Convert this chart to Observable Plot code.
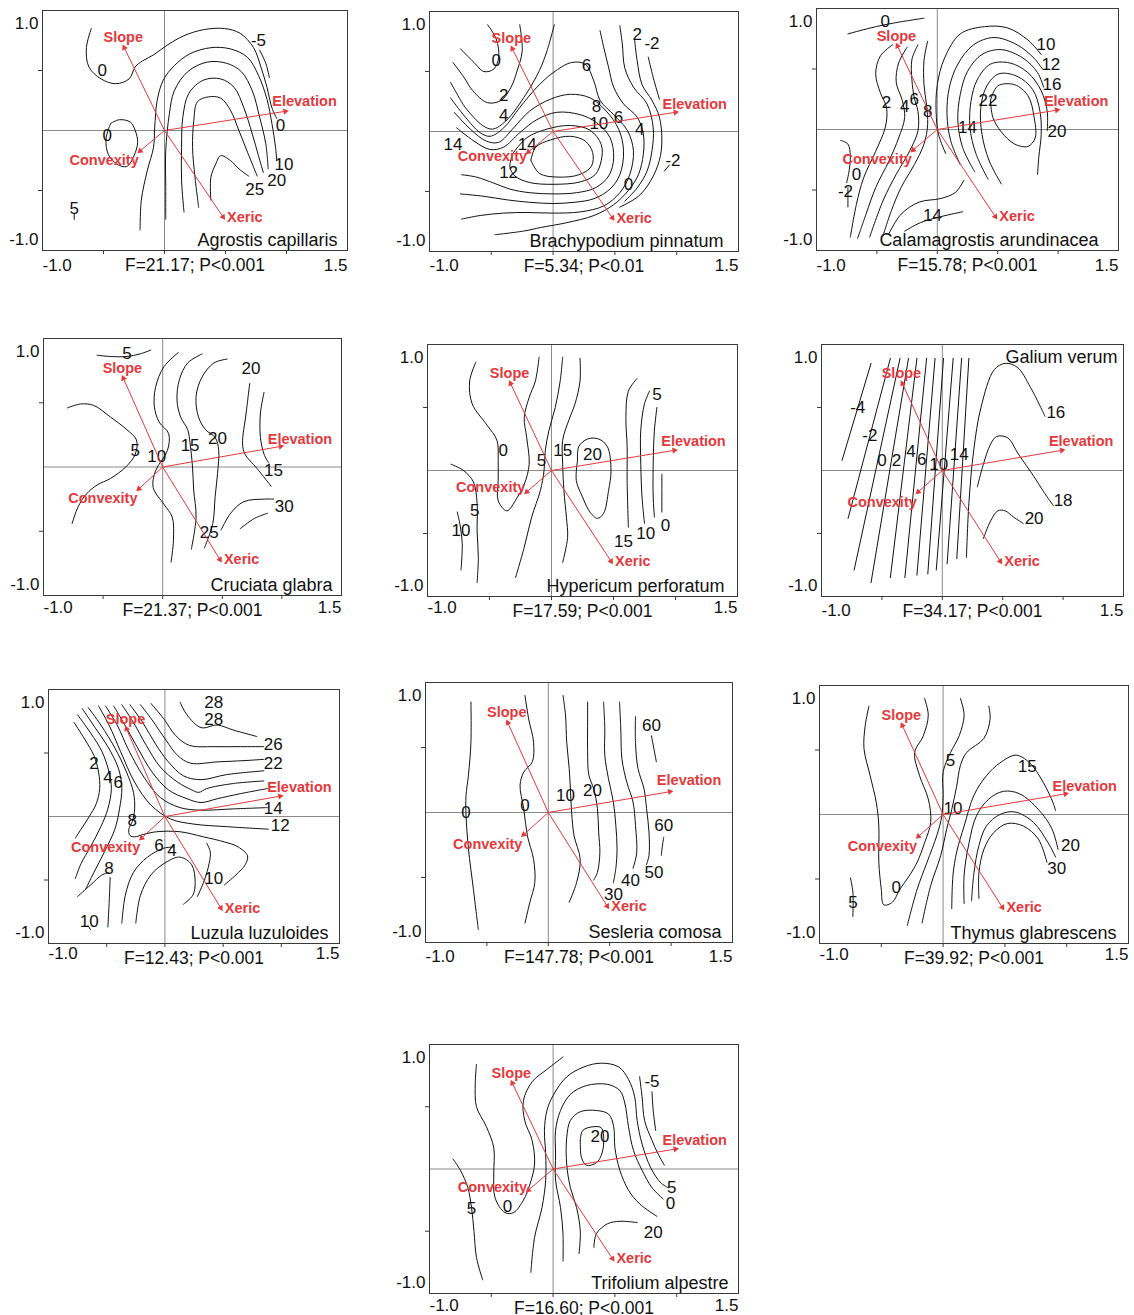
<!DOCTYPE html>
<html><head><meta charset="utf-8">
<script src="https://cdn.jsdelivr.net/npm/d3@7"></script>
<script src="https://cdn.jsdelivr.net/npm/@observablehq/plot@0.6"></script>
<style>
html,body{margin:0;padding:0;background:#fff}
body{width:1134px;height:1315px;overflow:hidden;position:relative}
.panel{position:absolute}
</style></head><body>
<div id="chart"></div>
<script>
// ---------- data ----------
const xTickLabels = [-1.0, 1.5];
const yTickLabels = [1.0, -1.0];
const minorXTicks = [-0.5, 0, 0.5, 1.0];
const minorYTicks = [-0.5, 0.5];

const arrows = [
  {name: "Slope", x: -0.33, y: 0.69},
  {name: "Elevation", x: 0.99, y: 0.16},
  {name: "Convexity", x: -0.20, y: -0.17},
  {name: "Xeric", x: 0.48, y: -0.72}
];

const species = ["Agrostis capillaris", "Brachypodium pinnatum", "Calamagrostis arundinacea",
  "Cruciata glabra", "Hypericum perforatum", "Galium verum",
  "Luzula luzuloides", "Sesleria comosa", "Thymus glabrescens", "Trifolium alpestre"];
const fStats = ["F=21.17; P<0.001", "F=5.34; P<0.01", "F=15.78; P<0.001",
  "F=21.37; P<0.001", "F=17.59; P<0.001", "F=34.17; P<0.001",
  "F=12.43; P<0.001", "F=147.78; P<0.001", "F=39.92; P<0.001", "F=16.60; P<0.001"];

const agrostisLines = [
 [[-0.60,0.85],[-0.64,0.69],[-0.62,0.53],[-0.52,0.43],[-0.40,0.39],[-0.29,0.43],[-0.24,0.53],[-0.18,0.58],[-0.09,0.63],[0.02,0.71],[0.16,0.79],[0.32,0.84],[0.49,0.85],[0.62,0.81],[0.73,0.69],[0.79,0.53],[0.84,0.36],[0.88,0.19],[0.92,0.10]],
 [[-0.20,-0.83],[-0.19,-0.58],[-0.14,-0.33],[-0.09,-0.14],[-0.08,0.03],[-0.06,0.25],[-0.01,0.42],[0.08,0.54],[0.21,0.64],[0.38,0.69],[0.54,0.68],[0.68,0.61],[0.77,0.46],[0.84,0.26],[0.88,0.06],[0.91,-0.14],[0.92,-0.25]],
 [[0.01,-0.74],[0.01,-0.47],[0.01,-0.17],[0.04,0.14],[0.08,0.33],[0.19,0.49],[0.35,0.57],[0.51,0.56],[0.63,0.49],[0.72,0.33],[0.78,0.11],[0.83,-0.11],[0.85,-0.32]],
 [[0.16,-0.68],[0.14,-0.42],[0.14,-0.14],[0.15,0.11],[0.20,0.31],[0.32,0.42],[0.46,0.43],[0.57,0.36],[0.65,0.19],[0.72,-0.03],[0.77,-0.21],[0.81,-0.35]],
 [[0.28,-0.64],[0.25,-0.39],[0.23,-0.14],[0.24,0.08],[0.27,0.24],[0.36,0.28],[0.46,0.27],[0.54,0.17],[0.61,0.00],[0.68,-0.18],[0.76,-0.38]],
 [[0.38,-0.58],[0.38,-0.39],[0.42,-0.28],[0.46,-0.21],[0.54,-0.25],[0.61,-0.32],[0.69,-0.38]],
 [[-0.44,0.06],[-0.37,0.09],[-0.28,0.07],[-0.24,0.00],[-0.22,-0.10],[-0.25,-0.21],[-0.31,-0.30],[-0.39,-0.28],[-0.46,-0.20],[-0.48,-0.08],[-0.46,0.01],[-0.44,0.06]],
 [[0.78,0.67],[0.83,0.56],[0.86,0.44]],
 [[-0.74,-0.69],[-0.74,-0.74]]
];
const agrostisLabels = [[0.77,0.75,"-5"],[-0.51,0.50,"0"],[0.95,0.04,"0"],[-0.47,-0.04,"0"],[0.98,-0.28,"10"],[0.92,-0.42,"20"],[0.74,-0.49,"25"],[-0.74,-0.65,"5"]];

const brachyLines = [
 [[-0.75,0.69],[-0.64,0.575],[-0.56,0.50],[-0.48,0.52],[-0.44,0.62],[-0.46,0.77],[-0.53,0.89]],
 [[-0.81,0.575],[-0.72,0.45],[-0.65,0.34],[-0.53,0.24],[-0.42,0.26],[-0.34,0.37],[-0.29,0.51],[-0.25,0.67],[-0.27,0.89]],
 [[-0.83,0.41],[-0.77,0.30],[-0.71,0.20],[-0.57,0.05],[-0.49,0.02],[-0.38,0.09],[-0.22,0.31],[-0.11,0.51],[-0.05,0.67],[0.01,0.89]],
 [[-0.18,-0.24],[-0.14,-0.13],[-0.02,-0.07],[0.14,-0.04],[0.26,-0.08],[0.32,-0.175],[0.31,-0.29],[0.21,-0.36],[0.04,-0.38],[-0.11,-0.35],[-0.18,-0.24]],
 [[-0.32,-0.175],[-0.21,-0.05],[-0.05,0.02],[0.14,0.05],[0.30,0.01],[0.39,-0.11],[0.39,-0.24],[0.34,-0.36],[0.22,-0.42],[0.00,-0.44],[-0.19,-0.425],[-0.31,-0.37],[-0.35,-0.29],[-0.32,-0.175]],
 [[-0.78,0.03],[-0.64,-0.08],[-0.51,-0.15],[-0.40,-0.13],[-0.27,-0.01],[-0.13,0.10],[0.03,0.16],[0.22,0.14],[0.35,0.075],[0.46,-0.05],[0.49,-0.22],[0.45,-0.37],[0.34,-0.47],[0.19,-0.51],[0.00,-0.52],[-0.19,-0.51],[-0.35,-0.48],[-0.48,-0.43],[-0.62,-0.38],[-0.74,-0.36]],
 [[-0.80,0.16],[-0.67,0.02],[-0.54,-0.08],[-0.44,-0.09],[-0.32,0.03],[-0.19,0.17],[-0.02,0.27],[0.14,0.31],[0.30,0.28],[0.43,0.17],[0.53,0.02],[0.57,-0.16],[0.54,-0.36],[0.46,-0.48],[0.33,-0.56],[0.17,-0.59],[0.00,-0.60],[-0.19,-0.59],[-0.37,-0.57],[-0.56,-0.54],[-0.75,-0.52]],
 [[-0.83,0.28],[-0.71,0.12],[-0.59,-0.01],[-0.51,-0.04],[-0.40,0.03],[-0.27,0.20],[-0.13,0.37],[0.00,0.49],[0.15,0.575],[0.26,0.56],[0.33,0.42],[0.38,0.26],[0.49,0.14],[0.60,0.01],[0.65,-0.16],[0.62,-0.36],[0.54,-0.51],[0.41,-0.62],[0.22,-0.67],[0.00,-0.68],[-0.21,-0.675],[-0.40,-0.68],[-0.59,-0.70],[-0.74,-0.73]],
 [[0.38,0.84],[0.41,0.70],[0.45,0.53],[0.49,0.37],[0.57,0.23],[0.68,0.12],[0.73,-0.02],[0.73,-0.19],[0.69,-0.36],[0.61,-0.49],[0.49,-0.61],[0.33,-0.70],[0.11,-0.76],[-0.10,-0.80],[-0.24,-0.83],[-0.47,-0.86]],
 [[0.54,0.88],[0.56,0.73],[0.58,0.53],[0.65,0.37],[0.76,0.23],[0.81,0.03],[0.80,-0.16],[0.76,-0.33],[0.68,-0.47],[0.58,-0.58]],
 [[0.66,0.76],[0.68,0.59],[0.72,0.39],[0.80,0.26],[0.86,0.12],[0.88,-0.08],[0.86,-0.24],[0.79,-0.41],[0.69,-0.54],[0.54,-0.63]],
 [[0.77,0.62],[0.81,0.45],[0.86,0.27]],
 [[0.90,-0.33],[0.94,-0.28]]
];
const brachyLabels = [[-0.46,0.59,"0"],[-0.40,0.30,"2"],[-0.40,0.13,"4"],[-0.81,-0.11,"14"],[-0.21,-0.11,"14"],[-0.36,-0.34,"12"],[0.27,0.55,"6"],[0.35,0.21,"8"],[0.37,0.065,"10"],[0.53,0.12,"6"],[0.70,0.02,"4"],[0.68,0.81,"2"],[0.80,0.73,"-2"],[0.97,-0.24,"-2"],[0.61,-0.44,"0"]];

const calamLines = [
 [[-0.74,0.79],[-0.55,0.84],[-0.36,0.88],[-0.11,0.92]],
 [[-0.37,0.70],[-0.47,0.61],[-0.51,0.46],[-0.47,0.30],[-0.42,0.18],[-0.43,0.02],[-0.51,-0.18],[-0.61,-0.40],[-0.67,-0.62],[-0.72,-0.89]],
 [[-0.25,0.68],[-0.32,0.55],[-0.34,0.39],[-0.29,0.24],[-0.27,0.10],[-0.32,-0.07],[-0.40,-0.26],[-0.51,-0.48],[-0.59,-0.70],[-0.66,-0.90]],
 [[-0.16,0.70],[-0.21,0.58],[-0.21,0.41],[-0.19,0.26],[-0.16,0.15],[-0.16,-0.01],[-0.23,-0.18],[-0.34,-0.37],[-0.45,-0.59],[-0.56,-0.89]],
 [[-0.08,0.73],[-0.11,0.57],[-0.11,0.37],[-0.09,0.21],[-0.08,0.04],[-0.11,-0.12],[-0.19,-0.29],[-0.30,-0.48],[-0.38,-0.67],[-0.45,-0.88]],
 [[0.07,-0.20],[0.01,-0.04],[-0.01,0.15],[0.00,0.37],[0.06,0.59],[0.19,0.79],[0.39,0.85],[0.58,0.84],[0.75,0.74],[0.86,0.62]],
 [[0.19,-0.29],[0.11,-0.09],[0.08,0.13],[0.10,0.35],[0.17,0.54],[0.30,0.70],[0.47,0.76],[0.66,0.70],[0.80,0.59],[0.87,0.50]],
 [[0.31,-0.35],[0.21,-0.15],[0.17,0.07],[0.19,0.29],[0.25,0.48],[0.37,0.62],[0.53,0.66],[0.71,0.59],[0.83,0.47],[0.88,0.35]],
 [[0.42,-0.41],[0.32,-0.20],[0.27,0.02],[0.28,0.24],[0.33,0.41],[0.44,0.54],[0.60,0.55],[0.75,0.47],[0.86,0.32],[0.91,0.15],[0.91,-0.01]],
 [[0.53,-0.45],[0.43,-0.26],[0.37,-0.04],[0.36,0.18],[0.41,0.36],[0.51,0.46],[0.66,0.44],[0.79,0.33],[0.85,0.15],[0.86,-0.04],[0.84,-0.23],[0.83,-0.37]],
 [[0.44,0.24],[0.50,0.36],[0.64,0.37],[0.75,0.28],[0.80,0.11],[0.81,-0.07],[0.75,-0.14],[0.64,-0.12],[0.53,-0.02],[0.46,0.10],[0.44,0.24]],
 [[-0.27,-0.84],[-0.14,-0.77],[0.03,-0.72],[0.21,-0.68]],
 [[-0.40,-0.86],[-0.30,-0.70],[-0.15,-0.60],[0.03,-0.57],[0.15,-0.52],[0.22,-0.42]],
 [[-0.80,-0.09],[-0.74,-0.12],[-0.72,-0.22],[-0.73,-0.34],[-0.75,-0.44]],
 [[-0.74,-0.48],[-0.74,-0.56],[-0.74,-0.64]]
];
const calamLabels = [[-0.43,0.89,"0"],[0.90,0.70,"10"],[0.94,0.54,"12"],[0.95,0.37,"16"],[0.42,0.24,"22"],[0.99,-0.02,"20"],[-0.42,0.22,"2"],[-0.27,0.19,"4"],[-0.19,0.25,"6"],[-0.08,0.15,"8"],[0.25,0.02,"14"],[-0.67,-0.37,"0"],[-0.76,-0.51,"-2"],[-0.04,-0.71,"14"]];

const cruciataLines = [
 [[-0.55,0.87],[-0.44,0.86],[-0.30,0.86],[-0.19,0.88],[-0.10,0.91]],
 [[-0.80,0.46],[-0.69,0.49],[-0.58,0.48],[-0.44,0.39],[-0.30,0.29],[-0.22,0.21],[-0.23,0.10],[-0.31,0.00],[-0.44,-0.09],[-0.55,-0.14],[-0.64,-0.21],[-0.71,-0.31],[-0.76,-0.44]],
 [[0.13,0.89],[0.01,0.78],[-0.06,0.62],[-0.07,0.47],[-0.03,0.35],[0.05,0.26],[0.04,0.13],[-0.06,-0.03],[-0.08,-0.16],[0.01,-0.29],[0.08,-0.39],[0.09,-0.57],[0.07,-0.74]],
 [[0.33,0.88],[0.21,0.81],[0.14,0.68],[0.12,0.52],[0.15,0.39],[0.21,0.29],[0.23,0.18],[0.25,0.00],[0.26,-0.18],[0.28,-0.39],[0.24,-0.64]],
 [[0.54,0.84],[0.43,0.81],[0.33,0.70],[0.28,0.55],[0.30,0.39],[0.36,0.29],[0.44,0.23],[0.47,0.13],[0.46,-0.05],[0.44,-0.23],[0.42,-0.44],[0.35,-0.63]],
 [[0.73,0.65],[0.70,0.42],[0.67,0.18],[0.69,0.10],[0.79,-0.01],[0.91,-0.15]],
 [[0.85,0.58],[0.82,0.42],[0.82,0.23],[0.85,0.10],[0.89,0.03]],
 [[0.49,-0.49],[0.57,-0.36],[0.68,-0.27],[0.85,-0.25],[0.93,-0.25]],
 [[0.65,-0.48],[0.77,-0.40],[0.88,-0.36]]
];
const cruciataLabels = [[-0.30,0.88,"5"],[-0.23,0.13,"5"],[-0.05,0.08,"10"],[0.23,0.17,"15"],[0.46,0.22,"20"],[0.74,0.77,"20"],[0.93,-0.03,"15"],[1.02,-0.31,"30"],[0.39,-0.51,"25"]];

const hyperLines = [
 [[-0.61,0.86],[-0.66,0.71],[-0.64,0.53],[-0.52,0.36],[-0.44,0.24],[-0.43,0.08],[-0.43,-0.08],[-0.43,-0.24],[-0.36,-0.32],[-0.28,-0.22],[-0.22,-0.11],[-0.18,0.05],[-0.20,0.26],[-0.22,0.42],[-0.18,0.58],[-0.13,0.71],[-0.10,0.90]],
 [[0.09,0.90],[0.07,0.71],[0.03,0.50],[-0.02,0.32],[-0.05,0.16],[-0.06,0.00],[-0.09,-0.16],[-0.16,-0.37],[-0.22,-0.61],[-0.29,-0.85]],
 [[0.23,0.89],[0.23,0.71],[0.19,0.53],[0.14,0.40],[0.09,0.24],[0.09,0.05],[0.10,-0.16],[0.12,-0.37],[0.13,-0.53],[0.09,-0.73]],
 [[0.21,0.08],[0.22,0.19],[0.29,0.25],[0.38,0.25],[0.45,0.19],[0.48,0.00],[0.46,-0.16],[0.42,-0.34],[0.37,-0.38],[0.31,-0.33],[0.25,-0.21],[0.20,-0.08],[0.21,0.08]],
 [[0.69,0.73],[0.62,0.63],[0.60,0.42],[0.61,0.19],[0.61,-0.08],[0.62,-0.45]],
 [[0.79,0.63],[0.75,0.53],[0.72,0.32],[0.72,0.05],[0.73,-0.21],[0.75,-0.42]],
 [[0.85,0.50],[0.83,0.32],[0.82,0.05],[0.82,-0.21],[0.83,-0.37]],
 [[0.89,-0.03],[0.89,-0.16],[0.89,-0.33]],
 [[-0.76,-0.33],[-0.74,-0.42],[-0.72,-0.58],[-0.73,-0.79]],
 [[-0.81,0.05],[-0.71,0.00],[-0.63,-0.09],[-0.60,-0.26],[-0.60,-0.48],[-0.59,-0.69],[-0.60,-0.89]]
];
const hyperLabels = [[-0.39,0.16,"0"],[-0.08,0.08,"5"],[0.09,0.16,"15"],[0.33,0.13,"20"],[0.85,0.60,"5"],[0.58,-0.56,"15"],[0.76,-0.50,"10"],[0.92,-0.44,"0"],[-0.62,-0.32,"5"],[-0.73,-0.48,"10"]];

const galiumLines = [
 [[-0.83,0.08],[-0.59,0.85]],
 [[-0.78,-0.38],[-0.43,0.89]],
 [[-0.73,-0.79],[-0.35,0.89]],
 [[-0.59,-0.89],[-0.28,0.89]],
 [[-0.43,-0.85],[-0.21,0.89]],
 [[-0.31,-0.85],[-0.13,0.89]],
 [[-0.21,-0.83],[-0.06,0.89]],
 [[-0.12,-0.82],[0.01,0.89]],
 [[-0.05,-0.79],[0.09,0.89]],
 [[0.04,-0.74],[0.16,0.89]],
 [[0.12,-0.70],[0.22,0.89]],
 [[0.20,-0.69],[0.22,-0.26],[0.26,0.16],[0.32,0.50],[0.43,0.80],[0.52,0.85],[0.62,0.82],[0.73,0.66],[0.85,0.43]],
 [[0.29,-0.13],[0.34,0.05],[0.40,0.21],[0.45,0.27],[0.54,0.26],[0.63,0.13],[0.76,-0.05],[0.84,-0.17],[0.92,-0.28]],
 [[0.34,-0.54],[0.40,-0.40],[0.46,-0.32],[0.52,-0.32],[0.59,-0.37],[0.67,-0.42]]
];
const galiumLabels = [[-0.70,0.50,"-4"],[-0.60,0.28,"-2"],[-0.50,0.08,"0"],[-0.38,0.08,"2"],[-0.26,0.15,"4"],[-0.17,0.09,"6"],[-0.03,0.05,"10"],[0.14,0.13,"14"],[0.94,0.46,"16"],[1.00,-0.24,"18"],[0.76,-0.38,"20"]];

const luzulaLines = [
 [[-0.78,0.74],[-0.69,0.61],[-0.61,0.48],[-0.57,0.35],[-0.56,0.22],[-0.59,0.10],[-0.65,0.00],[-0.72,-0.10],[-0.77,-0.17]],
 [[-0.75,0.80],[-0.64,0.66],[-0.54,0.51],[-0.48,0.35],[-0.46,0.22],[-0.49,0.06],[-0.55,-0.08],[-0.64,-0.24],[-0.72,-0.37],[-0.77,-0.49]],
 [[-0.71,0.85],[-0.60,0.70],[-0.49,0.55],[-0.40,0.38],[-0.37,0.23],[-0.39,0.06],[-0.43,-0.10],[-0.52,-0.28],[-0.61,-0.44],[-0.68,-0.57]],
 [[-0.66,0.86],[-0.55,0.72],[-0.43,0.54],[-0.33,0.35],[-0.27,0.19],[-0.26,0.06],[-0.28,-0.04],[-0.31,-0.10],[-0.30,-0.15],[-0.26,-0.16],[-0.18,-0.14],[-0.07,-0.12],[0.13,-0.12],[0.33,-0.16],[0.51,-0.20],[0.63,-0.24],[0.71,-0.31],[0.69,-0.38],[0.61,-0.46],[0.51,-0.54]],
 [[-0.57,0.87],[-0.48,0.72],[-0.38,0.51],[-0.26,0.27],[-0.12,0.09],[0.05,-0.02],[0.25,-0.06],[0.53,-0.08],[0.89,-0.10]],
 [[-0.51,0.87],[-0.41,0.72],[-0.31,0.52],[-0.18,0.31],[-0.04,0.15],[0.13,0.07],[0.31,0.05],[0.59,0.06],[0.88,0.07]],
 [[-0.44,0.87],[-0.35,0.73],[-0.24,0.55],[-0.11,0.35],[0.03,0.21],[0.19,0.14],[0.31,0.11],[0.45,0.14],[0.65,0.18],[0.88,0.22]],
 [[-0.37,0.88],[-0.27,0.74],[-0.16,0.56],[-0.04,0.39],[0.11,0.27],[0.23,0.21],[0.29,0.19],[0.36,0.22],[0.59,0.26],[0.85,0.28]],
 [[-0.30,0.88],[-0.19,0.74],[-0.08,0.57],[0.03,0.43],[0.16,0.32],[0.31,0.29],[0.53,0.33],[0.85,0.36]],
 [[-0.21,0.88],[-0.11,0.76],[0.01,0.60],[0.11,0.48],[0.22,0.42],[0.45,0.43],[0.68,0.44],[0.85,0.45]],
 [[-0.12,0.89],[-0.01,0.77],[0.09,0.64],[0.21,0.56],[0.42,0.55],[0.65,0.55],[0.85,0.55]],
 [[0.13,0.90],[0.19,0.80],[0.31,0.70],[0.45,0.72],[0.59,0.68],[0.79,0.63]],
 [[-0.37,-0.84],[-0.34,-0.62],[-0.27,-0.44],[-0.15,-0.32],[-0.01,-0.25],[0.08,-0.24]],
 [[-0.25,-0.84],[-0.21,-0.62],[-0.12,-0.46],[0.01,-0.36],[0.13,-0.32],[0.23,-0.38],[0.26,-0.52],[0.24,-0.62],[0.16,-0.69]],
 [[0.28,-0.63],[0.34,-0.50],[0.38,-0.37],[0.39,-0.28],[0.36,-0.21]],
 [[-0.75,-0.63],[-0.64,-0.54],[-0.54,-0.46],[-0.48,-0.44]],
 [[-0.47,-0.48],[-0.48,-0.70],[-0.49,-0.87]],
 [[-0.66,-0.86],[-0.64,-0.89]]
];
const luzulaLabels = [[0.42,0.90,"28"],[0.42,0.76,"28"],[0.93,0.57,"26"],[0.93,0.42,"22"],[0.93,0.06,"14"],[0.99,-0.07,"12"],[-0.61,0.42,"2"],[-0.49,0.31,"4"],[-0.40,0.27,"6"],[-0.28,-0.03,"8"],[-0.05,-0.23,"6"],[0.06,-0.27,"4"],[0.42,-0.49,"10"],[-0.48,-0.41,"8"],[-0.65,-0.83,"10"]];

const sesleriaLines = [
 [[-0.63,0.85],[-0.63,0.54],[-0.65,0.29],[-0.67,0.13],[-0.67,-0.02],[-0.65,-0.28],[-0.61,-0.59],[-0.57,-0.90]],
 [[-0.19,0.90],[-0.16,0.72],[-0.12,0.54],[-0.13,0.39],[-0.20,0.31],[-0.23,0.21],[-0.20,0.03],[-0.17,-0.18],[-0.12,-0.36],[-0.11,-0.54],[-0.15,-0.69],[-0.19,-0.85]],
 [[0.12,0.90],[0.14,0.75],[0.15,0.54],[0.17,0.34],[0.18,0.18],[0.19,0.00],[0.21,-0.18],[0.26,-0.36],[0.23,-0.54],[0.17,-0.69]],
 [[0.32,0.85],[0.32,0.67],[0.32,0.47],[0.33,0.29],[0.37,0.18],[0.40,0.03],[0.41,-0.15],[0.42,-0.31],[0.40,-0.46],[0.37,-0.52]],
 [[0.45,0.85],[0.46,0.65],[0.46,0.44],[0.49,0.26],[0.53,0.08],[0.55,-0.10],[0.56,-0.28],[0.55,-0.43],[0.53,-0.54]],
 [[0.58,0.85],[0.59,0.65],[0.60,0.41],[0.64,0.23],[0.69,0.08],[0.71,-0.10],[0.72,-0.31],[0.69,-0.43]],
 [[0.71,0.74],[0.71,0.54],[0.73,0.34],[0.78,0.18],[0.80,0.03],[0.82,-0.15],[0.82,-0.33],[0.80,-0.40]],
 [[0.84,0.59],[0.86,0.49],[0.88,0.39]],
 [[0.94,-0.19],[0.93,-0.25],[0.92,-0.33]]
];
const sesleriaLabels = [[-0.67,0.00,"0"],[-0.19,0.05,"0"],[0.14,0.13,"10"],[0.36,0.17,"20"],[0.84,0.67,"60"],[0.94,-0.10,"60"],[0.86,-0.46,"50"],[0.67,-0.52,"40"],[0.53,-0.63,"30"]];

const thymusLines = [
 [[-0.60,0.84],[-0.63,0.69],[-0.64,0.51],[-0.59,0.30],[-0.54,0.09],[-0.52,-0.09],[-0.52,-0.37],[-0.50,-0.58],[-0.48,-0.70],[-0.41,-0.68],[-0.35,-0.58],[-0.27,-0.47],[-0.21,-0.37],[-0.15,-0.22],[-0.10,-0.06],[-0.12,0.12],[-0.19,0.30],[-0.23,0.48],[-0.16,0.61],[-0.12,0.77],[-0.15,0.90]],
 [[0.14,0.90],[0.17,0.77],[0.13,0.61],[0.06,0.48],[0.00,0.33],[0.00,0.15],[-0.01,-0.01],[-0.05,-0.16],[-0.13,-0.37],[-0.21,-0.58],[-0.29,-0.86]],
 [[0.37,0.84],[0.38,0.74],[0.33,0.59],[0.19,0.48],[0.14,0.38],[0.11,0.22],[0.07,0.04],[0.03,-0.11],[-0.02,-0.32],[-0.10,-0.55],[-0.17,-0.84]],
 [[0.07,-0.73],[0.08,-0.47],[0.11,-0.29],[0.17,-0.09],[0.25,0.15],[0.35,0.30],[0.46,0.40],[0.59,0.46],[0.70,0.40],[0.81,0.25],[0.89,0.09],[0.91,0.03]],
 [[0.17,-0.69],[0.17,-0.47],[0.21,-0.22],[0.27,-0.01],[0.37,0.12],[0.49,0.18],[0.62,0.16],[0.77,0.04],[0.88,-0.11],[0.93,-0.27]],
 [[0.23,-0.67],[0.25,-0.45],[0.29,-0.24],[0.35,-0.09],[0.46,0.00],[0.58,0.02],[0.73,-0.06],[0.85,-0.22],[0.91,-0.33]],
 [[0.29,-0.65],[0.29,-0.45],[0.33,-0.27],[0.41,-0.14],[0.52,-0.07],[0.65,-0.09],[0.77,-0.19],[0.84,-0.37]],
 [[-0.75,-0.49],[-0.73,-0.60],[-0.73,-0.79]]
];
const thymusLabels = [[-0.38,-0.57,"0"],[0.06,0.42,"5"],[0.08,0.05,"10"],[0.68,0.37,"15"],[1.03,-0.24,"20"],[0.92,-0.42,"30"],[-0.73,-0.68,"5"]];

const trifoliumLines = [
 [[-0.81,0.08],[-0.75,-0.01],[-0.69,-0.15],[-0.66,-0.31],[-0.64,-0.50],[-0.62,-0.71],[-0.57,-0.89]],
 [[-0.62,0.84],[-0.63,0.68],[-0.62,0.50],[-0.54,0.34],[-0.48,0.17],[-0.48,-0.04],[-0.47,-0.23],[-0.39,-0.35],[-0.32,-0.35],[-0.24,-0.25],[-0.19,-0.13],[-0.15,0.04],[-0.17,0.23],[-0.23,0.39],[-0.24,0.55],[-0.17,0.70],[-0.05,0.80],[0.08,0.90]],
 [[0.70,0.74],[0.72,0.58],[0.74,0.39],[0.80,0.23],[0.85,0.12],[0.90,0.03]],
 [[0.80,0.62],[0.81,0.47],[0.83,0.31]],
 [[-0.18,-0.83],[-0.15,-0.55],[-0.09,-0.31],[-0.06,-0.09],[-0.06,0.12],[-0.07,0.31],[-0.05,0.47],[0.00,0.59],[0.11,0.74],[0.25,0.82],[0.39,0.85],[0.53,0.82],[0.61,0.72],[0.66,0.58],[0.68,0.39],[0.72,0.20],[0.79,0.01],[0.87,-0.11],[0.93,-0.15]],
 [[0.08,-0.74],[0.08,-0.52],[0.06,-0.31],[0.02,-0.09],[0.02,0.12],[0.02,0.31],[0.06,0.47],[0.14,0.60],[0.27,0.67],[0.44,0.68],[0.54,0.63],[0.58,0.53],[0.61,0.34],[0.65,0.15],[0.72,-0.01],[0.80,-0.15],[0.89,-0.24]],
 [[0.21,-0.68],[0.22,-0.50],[0.19,-0.31],[0.14,-0.15],[0.11,0.04],[0.11,0.25],[0.14,0.39],[0.22,0.46],[0.35,0.47],[0.45,0.44],[0.49,0.34],[0.50,0.17],[0.54,-0.01],[0.61,-0.17],[0.70,-0.28],[0.84,-0.38]],
 [[0.22,0.23],[0.24,0.31],[0.33,0.34],[0.39,0.33],[0.41,0.23],[0.39,0.11],[0.35,0.05],[0.27,0.03],[0.23,0.09],[0.22,0.23]],
 [[0.33,-0.63],[0.35,-0.52],[0.44,-0.44],[0.54,-0.42],[0.68,-0.43]]
];
const trifoliumLabels = [[0.80,0.70,"-5"],[0.38,0.26,"20"],[0.96,-0.15,"5"],[0.95,-0.28,"0"],[0.81,-0.51,"20"],[-0.66,-0.32,"5"],[-0.37,-0.30,"0"]];

// ---------- layout / style ----------
const FONT = "'Liberation Sans', Arial, Helvetica, sans-serif";
const RED = "#e4393c";
const layout = [
  {left:42,  top:10,   w:305, h:240, tickDy:15, convDy:9,  elevDy:-10, nameDx:-10},
  {left:429, top:11,   w:309, h:240, tickDy:14, convDy:4,  elevDy:-8,  nameDx:-15},
  {left:816, top:8,    w:302, h:242, tickDy:15, convDy:9,  elevDy:-9,  nameDx:-20},
  {left:43,  top:338,  w:298, h:257, tickDy:12, convDy:10, elevDy:-7,  nameDx:-9},
  {left:427, top:344,  w:310, h:252, tickDy:11, convDy:-5, elevDy:-9,  nameDx:-13},
  {left:821, top:344,  w:302, h:252, tickDy:14, convDy:10, elevDy:-9,  nameDx:-6, nameTop:true},
  {left:48,  top:689,  w:291, h:254, tickDy:10, convDy:9,  elevDy:-9,  nameDx:-11},
  {left:425, top:682,  w:307, h:260, tickDy:14, convDy:10, elevDy:-11, nameDx:-11},
  {left:819, top:685,  w:309, h:258, tickDy:11, convDy:10, elevDy:-8,  nameDx:-12},
  {left:429, top:1044, w:309, h:249, tickDy:12, convDy:-3, elevDy:-9,  nameDx:-10}
];
const allLines = [agrostisLines, brachyLines, calamLines, cruciataLines, hyperLines, galiumLines, luzulaLines, sesleriaLines, thymusLines, trifoliumLines];
const allLabels = [agrostisLabels, brachyLabels, calamLabels, cruciataLabels, hyperLabels, galiumLabels, luzulaLabels, sesleriaLabels, thymusLabels, trifoliumLabels];

const chart = document.getElementById("chart");
const ML = 40, MR = 6, MT = 12, MB = 30;

layout.forEach((L, i) => {
  const rows = allLines[i].flatMap((ln, j) => ln.map(([x, y]) => ({id: j, x, y})));
  const labs = allLabels[i].map(([x, y, t]) => ({x, y, t}));
  const sx = L.w / 2.5, sy = L.h / 2;
  const headAngle = a => Math.atan2(a.x * sx, a.y * sy) * 180 / Math.PI;
  const arrowText = (name, opts) => Plot.text(arrows.filter(a => a.name === name),
    {x: "x", y: "y", text: "name", fill: RED, fontWeight: "bold", fontSize: 14.5, ...opts});
  const svg = Plot.plot({
    width: L.w + ML + MR, height: L.h + MT + MB,
    marginLeft: ML, marginRight: MR, marginTop: MT, marginBottom: MB,
    x: {domain: [-1, 1.5], axis: null},
    y: {domain: [-1, 1], axis: null},
    style: {fontFamily: FONT, fontSize: "17px", color: "#111", background: "transparent", overflow: "visible"},
    marks: [
      Plot.ruleX([0], {stroke: "#8a8a8a", strokeWidth: 1}),
      Plot.ruleY([0], {stroke: "#8a8a8a", strokeWidth: 1}),
      Plot.line(rows, {x: "x", y: "y", z: "id", curve: "catmull-rom", stroke: "#111", strokeWidth: 1}),
      Plot.text(labs, {x: "x", y: "y", text: "t", fontSize: 17, fill: "#111"}),
      Plot.link(arrows, {x1: () => 0, y1: () => 0, x2: "x", y2: "y", stroke: RED, strokeWidth: 1}),
      Plot.dot(arrows, {x: "x", y: "y", symbol: "triangle", r: 2.3, rotate: headAngle, fill: RED, stroke: "none"}),
      arrowText("Slope", {textAnchor: "middle", dx: -1, dy: -10}),
      arrowText("Elevation", {textAnchor: "start", dx: -13, dy: L.elevDy}),
      arrowText("Convexity", {textAnchor: "middle", dx: -36, dy: L.convDy}),
      arrowText("Xeric", {textAnchor: "start", dx: 4, dy: 0}),
      Plot.frame({stroke: "#3a3a3a", strokeWidth: 1}),
      Plot.axisX({ticks: minorXTicks, tickSize: 4, tickFormat: () => "", label: null, stroke: "#3a3a3a"}),
      Plot.axisY({ticks: minorYTicks, tickSize: 4, tickFormat: () => "", label: null, stroke: "#3a3a3a"}),
      Plot.text(xTickLabels.filter(d => d < 0), {x: d => d, text: d => d.toFixed(1), frameAnchor: "bottom", lineAnchor: "middle", dy: L.tickDy, textAnchor: "start", fontSize: 17}),
      Plot.text(xTickLabels.filter(d => d > 0), {x: d => d, text: d => d.toFixed(1), frameAnchor: "bottom", lineAnchor: "middle", dy: L.tickDy, textAnchor: "end", fontSize: 17}),
      Plot.text(yTickLabels.filter(d => d > 0), {y: d => d, text: d => d.toFixed(1), frameAnchor: "left", lineAnchor: "middle", dx: -4, dy: 13.5, textAnchor: "end", fontSize: 17}),
      Plot.text(yTickLabels.filter(d => d < 0), {y: d => d, text: d => d.toFixed(1), frameAnchor: "left", lineAnchor: "middle", dx: -4, dy: -10.5, textAnchor: "end", fontSize: 17}),
      Plot.text([species[i]], {text: d => d, frameAnchor: L.nameTop ? "top-right" : "bottom-right", lineAnchor: "middle", textAnchor: "end", dx: L.nameDx, dy: L.nameTop ? 12.5 : -10.5, fontSize: 18}),
      Plot.text([fStats[i]], {text: d => d, frameAnchor: "bottom", lineAnchor: "middle", dy: 15, fontSize: 17.5})
    ]
  });
  const div = document.createElement("div");
  div.className = "panel";
  div.style.left = (L.left - ML) + "px";
  div.style.top = (L.top - MT) + "px";
  div.style.width = (L.w + ML + MR) + "px";
  div.appendChild(svg);
  chart.appendChild(div);
});
</script>
</body></html>
